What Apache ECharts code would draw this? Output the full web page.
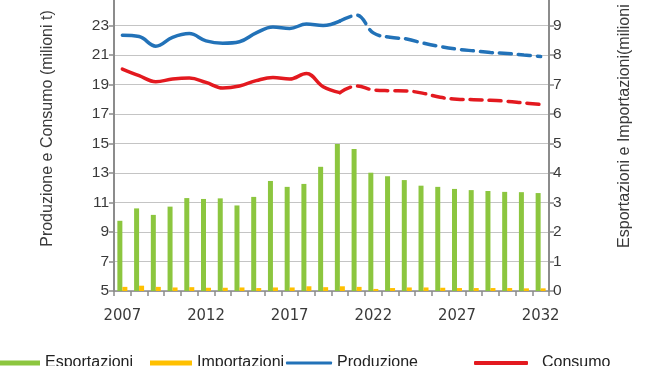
<!DOCTYPE html>
<html>
<head>
<meta charset="utf-8">
<script src="https://cdn.jsdelivr.net/npm/echarts@6/dist/echarts.min.js"></script>
<style>
html,body{margin:0;padding:0;background:#fff;}
#chart{width:650px;height:366px;}
</style>
</head>
<body>
<div id="chart"></div>
<script>
const years = ['2007','2008','2009','2010','2011','2012','2013','2014','2015','2016','2017','2018','2019','2020','2021','2022','2023','2024','2025','2026','2027','2028','2029','2030','2031','2032'];
const esportazioni = [2.38,2.80,2.58,2.86,3.15,3.12,3.14,2.90,3.19,3.73,3.53,3.63,4.21,4.98,4.81,4.01,3.89,3.76,3.57,3.53,3.46,3.42,3.39,3.36,3.35,3.32];
const importazioni = [0.14,0.18,0.14,0.12,0.13,0.11,0.11,0.12,0.10,0.12,0.12,0.16,0.13,0.16,0.14,0.07,0.10,0.12,0.12,0.11,0.10,0.10,0.10,0.10,0.09,0.09];
const produzione = [22.34,22.25,21.6,22.2,22.45,21.96,21.8,21.9,22.5,22.9,22.8,23.1,23.0,23.3,23.7,22.5,22.2,22.08,21.8,21.57,21.4,21.28,21.17,21.1,21.0,20.9];
const consumo = [20.05,19.6,19.19,19.37,19.44,19.14,18.76,18.9,19.26,19.48,19.37,19.75,18.85,18.45,18.9,18.63,18.58,18.56,18.4,18.13,18.0,17.97,17.93,17.86,17.75,17.65];
const forecastStart = '2020';
const leftTicks = {min: 5, max: 25, interval: 2};
const rightTicks = {min: 0, max: 10, interval: 1};

const fi = years.indexOf(forecastStart);
const solidPart = arr => arr.map((v, i) => i <= fi ? v : null);
const dashedPart = arr => arr.map((v, i) => i >= fi ? v : null);

const C_GREEN = '#8CC63F', C_ORANGE = '#FFC000', C_BLUE = '#2272B8', C_RED = '#E3191F';
const axisGrey = '#8C8C8C';
const txt = '#3A3A3A';
const fam = 'Liberation Sans, Arial, sans-serif';

const chart = echarts.init(document.getElementById('chart'));
const legendBase = {top: 355, padding: 0, itemGap: 0, textStyle: {fontSize: 16, color: '#222', fontFamily: fam}};
chart.setOption({
  animation: false,
  grid: {left: 114, right: 101, top: -4, bottom: 75, containLabel: false, outerBoundsMode: 'none'},
  legend: [
    Object.assign({}, legendBase, {left: 0, data: ['Esportazioni'], icon: 'rect', itemWidth: 40, itemHeight: 5}),
    Object.assign({}, legendBase, {left: 150, data: ['Importazioni'], icon: 'rect', itemWidth: 42, itemHeight: 5}),
    Object.assign({}, legendBase, {left: 286, data: ['Produzione'], icon: 'roundRect', itemWidth: 46, itemHeight: 3}),
    Object.assign({}, legendBase, {left: 474, data: ['Consumo'], icon: 'roundRect', itemWidth: 54, itemHeight: 4,
      textStyle: {fontSize: 16, color: '#222', fontFamily: fam, padding: [0, 0, 0, 9]}})
  ],
  xAxis: {
    type: 'category',
    data: years,
    boundaryGap: true,
    axisLine: {lineStyle: {color: axisGrey, width: 1.5}},
    axisTick: {show: true, interval: 0, length: 5, lineStyle: {color: axisGrey, width: 1.5}},
    axisLabel: {interval: 4, fontSize: 16.5, color: txt, fontFamily: 'DejaVu Sans Condensed, sans-serif', margin: 16},
    splitLine: {show: false}
  },
  yAxis: [
    {
      type: 'value', position: 'left',
      min: leftTicks.min, max: leftTicks.max, interval: leftTicks.interval,
      name: 'Produzione e Consumo (milioni t)',
      nameLocation: 'middle', nameGap: 58,
      nameTextStyle: {fontSize: 16, color: txt, fontFamily: fam, padding: [0, 0, 0, 30]},
      axisLine: {show: true, lineStyle: {color: axisGrey, width: 2}},
      axisTick: {show: true, length: 5, lineStyle: {color: axisGrey, width: 1.5}},
      axisLabel: {fontSize: 15.5, color: txt, fontFamily: fam, margin: 5, showMaxLabel: true, hideOverlap: false},
      splitLine: {show: true, lineStyle: {color: '#C4C4C4', width: 1}}
    },
    {
      type: 'value', position: 'right',
      min: rightTicks.min, max: rightTicks.max, interval: rightTicks.interval,
      name: 'Esportazioni e Importazioni(milioni t)',
      nameLocation: 'middle', nameGap: 68,
      nameTextStyle: {fontSize: 16, color: txt, fontFamily: fam, padding: [0, 0, 0, 49]},
      axisLine: {show: true, lineStyle: {color: axisGrey, width: 2}},
      axisTick: {show: true, length: 5, lineStyle: {color: axisGrey, width: 1.5}},
      axisLabel: {fontSize: 15.5, color: txt, fontFamily: fam, margin: 4, showMaxLabel: true, hideOverlap: false},
      splitLine: {show: false}
    }
  ],
  series: [
    {name: 'Esportazioni', type: 'bar', yAxisIndex: 1, data: esportazioni, barWidth: 5, barGap: '0%',
      itemStyle: {color: C_GREEN}},
    {name: 'Importazioni', type: 'bar', yAxisIndex: 1, data: importazioni, barWidth: 5, barGap: '0%',
      itemStyle: {color: C_ORANGE}},
    {name: 'Produzione', type: 'line', yAxisIndex: 0, data: solidPart(produzione), smooth: 0.4, showSymbol: false, symbol: 'none',
      itemStyle: {color: C_BLUE}, lineStyle: {color: C_BLUE, width: 3.5, cap: 'round'}},
    {name: 'Produzione', type: 'line', yAxisIndex: 0, data: dashedPart(produzione), smooth: 0.4, showSymbol: false, symbol: 'none',
      itemStyle: {color: C_BLUE}, lineStyle: {color: C_BLUE, width: 3.5, type: [12, 7], cap: 'round'}},
    {name: 'Consumo', type: 'line', yAxisIndex: 0, data: solidPart(consumo), smooth: 0.4, showSymbol: false, symbol: 'none',
      itemStyle: {color: C_RED}, lineStyle: {color: C_RED, width: 3.5, cap: 'round'}},
    {name: 'Consumo', type: 'line', yAxisIndex: 0, data: dashedPart(consumo), smooth: 0.4, showSymbol: false, symbol: 'none',
      itemStyle: {color: C_RED}, lineStyle: {color: C_RED, width: 3.5, type: [12, 7], cap: 'round'}}
  ]
});
</script>
</body>
</html>
